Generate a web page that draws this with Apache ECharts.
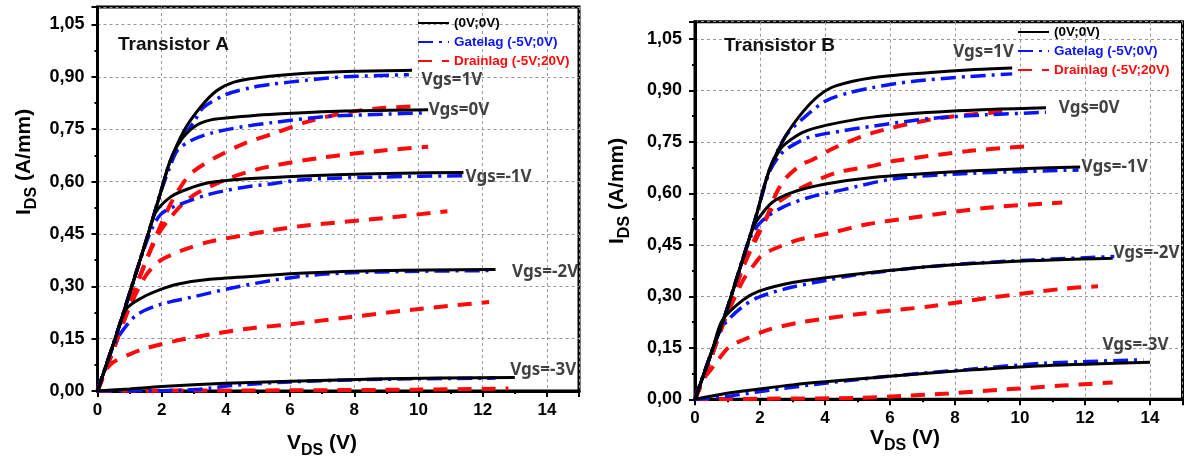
<!DOCTYPE html>
<html><head><meta charset="utf-8">
<script src="https://cdn.jsdelivr.net/npm/echarts@6/dist/echarts.min.js"></script>
<style>html,body{margin:0;padding:0;background:#fff}#c{width:1184px;height:459px}</style>
</head><body><div id="c"></div>
<script>
// ---------- Transistor A : [VDS (V), IDS (A/mm)] ----------
const A_black_p1 = [[0,0],[0.55,0.15],[1.07,0.30],[1.58,0.45],[1.97,0.57],[2.25,0.655],[2.69,0.745],[3.2,0.812],[3.71,0.86],[4.23,0.884],[5.05,0.898],[6.5,0.91],[8,0.916],[9.8,0.919]];
const A_black_0  = [[0,0],[0.55,0.15],[1.07,0.30],[1.58,0.45],[1.97,0.57],[2.25,0.655],[2.55,0.712],[3.0,0.756],[3.5,0.776],[4.5,0.786],[5.35,0.792],[7.7,0.802],[10.3,0.806]];
const A_black_m1 = [[0,0],[0.55,0.15],[1.07,0.30],[1.58,0.45],[1.8,0.51],[2.28,0.556],[2.79,0.578],[3.5,0.597],[4.53,0.607],[5.9,0.614],[7.7,0.62],[9.5,0.624],[11.4,0.626]];
const A_black_m2 = [[0,0],[0.55,0.15],[0.9,0.235],[1.4,0.268],[1.97,0.291],[2.48,0.306],[3.5,0.32],[5.46,0.332],[6,0.336],[8.9,0.345],[12.4,0.348]];
const A_black_m3 = [[0,0],[1,0.006],[2,0.013],[4,0.022],[6,0.028],[9,0.035],[13,0.039]];

const A_blue_p1 = [[0,0],[0.55,0.15],[1.07,0.30],[1.58,0.45],[1.97,0.57],[2.25,0.655],[2.6,0.72],[3.0,0.77],[3.3,0.812],[4.02,0.85],[4.84,0.87],[5.46,0.879],[6.5,0.89],[7.7,0.90],[9.7,0.906]];
const A_blue_0  = [[0,0],[0.55,0.15],[1.07,0.30],[1.58,0.45],[1.97,0.57],[2.25,0.64],[2.48,0.688],[2.9,0.717],[3.6,0.74],[4.53,0.757],[5.46,0.769],[7.1,0.786],[8.9,0.793],[10.3,0.797]];
const A_blue_m1 = [[0,0],[0.55,0.15],[1.07,0.30],[1.58,0.44],[1.97,0.506],[2.58,0.535],[3.5,0.564],[4.53,0.583],[5.46,0.594],[6.5,0.606],[8.9,0.613],[11.5,0.617]];
const A_blue_m2 = [[0,0],[0.5,0.13],[0.84,0.18],[1.25,0.22],[1.97,0.248],[3.0,0.27],[4.23,0.296],[5.46,0.317],[6.5,0.33],[7.7,0.338],[10,0.343],[12.2,0.345]];
const A_blue_m3 = [[0,0],[2,0.001],[3,0.004],[3.5,0.008],[4,0.014],[5,0.021],[6,0.026],[8,0.032],[10,0.035],[12.4,0.037]];

const A_red_p1 = [[0,0],[0.5,0.12],[1,0.25],[1.5,0.37],[1.9,0.46],[2.3,0.54],[2.7,0.60],[3.0,0.63],[3.7,0.67],[4.6,0.71],[5.5,0.738],[6.5,0.77],[7.7,0.797],[8.8,0.81],[9.8,0.815]];
const A_red_0  = [[0,0],[0.5,0.12],[1,0.25],[1.5,0.37],[1.9,0.45],[2.3,0.50],[2.7,0.54],[3.2,0.572],[4.2,0.613],[5.3,0.642],[7.1,0.67],[8.9,0.689],[10.3,0.70]];
const A_red_m1 = [[0,0],[0.5,0.12],[1.0,0.24],[1.5,0.33],[1.9,0.37],[2.3,0.39],[2.7,0.405],[3.5,0.428],[4.5,0.445],[5.4,0.46],[6.5,0.474],[8.9,0.495],[10.9,0.515]];
const A_red_m2 = [[0,0],[0.2,0.05],[0.45,0.08],[1,0.105],[1.5,0.122],[2.5,0.145],[3.7,0.165],[4.8,0.18],[5.9,0.19],[7.9,0.212],[9.8,0.233],[12.2,0.255]];
const A_red_m3 = [[0,0],[2,0.001],[6,0.002],[10,0.004],[12.8,0.007]];

// ---------- Transistor B ----------
const B_black_p1 = [[0,0],[0.53,0.143],[0.94,0.25],[1.46,0.405],[1.87,0.53],[2.28,0.666],[2.79,0.767],[3.3,0.835],[3.8,0.884],[4.33,0.913],[5.46,0.937],[7.25,0.952],[8.5,0.96],[9.76,0.965]];
const B_black_0  = [[0,0],[0.53,0.143],[0.94,0.25],[1.46,0.405],[1.87,0.53],[2.28,0.666],[2.6,0.725],[2.79,0.745],[3.3,0.777],[4.02,0.798],[5.46,0.822],[7.83,0.839],[10.8,0.849]];
const B_black_m1 = [[0,0],[0.53,0.143],[0.94,0.25],[1.46,0.405],[1.75,0.49],[1.9,0.52],[2.38,0.574],[3.0,0.603],[4.02,0.627],[5.46,0.646],[7.83,0.662],[10.2,0.672],[11.85,0.677]];
const B_black_m2 = [[0,0],[0.53,0.143],[0.84,0.23],[1.46,0.288],[1.97,0.315],[3.0,0.34],[4.02,0.354],[5.46,0.37],[7.25,0.387],[9.58,0.401],[12.85,0.411]];
const B_black_m3 = [[0,0],[0.94,0.017],[1.97,0.03],[3.0,0.042],[4,0.051],[5.46,0.063],[6.08,0.068],[8.4,0.085],[10.75,0.098],[14,0.108]];

const B_blue_p1 = [[0,0],[0.53,0.143],[0.94,0.25],[1.46,0.405],[1.87,0.53],[2.28,0.666],[2.79,0.767],[3.3,0.816],[4.02,0.869],[4.74,0.893],[5.46,0.908],[6.67,0.926],[8.4,0.94],[9.76,0.948]];
const B_blue_0  = [[0,0],[0.53,0.143],[0.94,0.25],[1.46,0.405],[1.87,0.53],[2.28,0.66],[2.6,0.71],[2.9,0.734],[3.5,0.763],[4.53,0.782],[5.5,0.796],[7.25,0.818],[9.0,0.829],[10.8,0.836]];
const B_blue_m1 = [[0,0],[0.53,0.143],[0.94,0.25],[1.46,0.405],[1.75,0.48],[2.07,0.52],[2.69,0.559],[3.5,0.588],[4.53,0.61],[6.1,0.642],[8.4,0.658],[11.8,0.668]];
const B_blue_m2 = [[0,0],[0.53,0.143],[0.84,0.211],[1.4,0.265],[1.97,0.298],[3.0,0.327],[4.02,0.346],[4.92,0.362],[7.25,0.387],[9.58,0.402],[12.9,0.416]];
const B_blue_m3 = [[0,0],[0.94,0.008],[1.97,0.022],[3,0.035],[4,0.047],[6.08,0.068],[8.4,0.087],[10.75,0.105],[13.8,0.115]];

const B_red_p1 = [[0,0],[0.3,0.07],[0.6,0.15],[1.0,0.26],[1.5,0.39],[1.9,0.48],[2.2,0.53],[2.5,0.6],[2.8,0.645],[3.3,0.685],[3.6,0.697],[4.3,0.733],[5.46,0.776],[7.25,0.815],[8.5,0.83],[9.7,0.839]];
const B_red_0  = [[0,0],[0.3,0.07],[0.6,0.15],[1.0,0.26],[1.5,0.39],[1.9,0.47],[2.4,0.56],[2.8,0.59],[3.4,0.622],[4.34,0.66],[5.46,0.68],[6.1,0.694],[8.4,0.723],[10.2,0.737]];
const B_red_m1 = [[0,0],[0.3,0.07],[0.6,0.15],[1.0,0.25],[1.5,0.35],[1.8,0.39],[2.07,0.42],[2.48,0.44],[3.2,0.465],[4.2,0.485],[5.3,0.51],[6.67,0.529],[9.0,0.558],[11.3,0.573]];
const B_red_m2 = [[0,0],[0.2,0.05],[0.6,0.1],[1.05,0.153],[1.46,0.172],[2.27,0.203],[3.3,0.225],[5.2,0.25],[7.25,0.271],[9.0,0.295],[11.33,0.322],[12.4,0.329]];
const B_red_m3 = [[0,0],[2.5,0.002],[5,0.004],[6.4,0.01],[7.8,0.017],[9.6,0.029],[11.3,0.04],[12.85,0.049]];

// ---------- text ----------
const legendNames = ['(0V;0V)', 'Gatelag (-5V;0V)', 'Drainlag (-5V;20V)'];
const vgsNames = ['Vgs=1V', 'Vgs=0V', 'Vgs=-1V', 'Vgs=-2V', 'Vgs=-3V'];
const A_labelAt = [[10.08,0.89],[10.3,0.804],[11.45,0.613],[12.9,0.34],[12.84,0.06]];
const B_labelAt = [[7.93,1.012],[11.18,0.848],[11.88,0.677],[12.86,0.425],[12.52,0.158]];
const panelTitles = ['Transistor A', 'Transistor B'];
const xTickStep = 2, xMax = 15, yTickStep = 0.15, yMax = 1.1;

// ---------- build ----------
const FONT = 'Liberation Sans';
const lineStyles = [
  {color: '#000000', type: 'solid', width: 3},
  {color: '#0a14ff', type: [15, 6, 3, 6], width: 3.5},
  {color: '#ff0a0a', type: [14, 10], width: 4}
];
const panels = [
  {black: [A_black_p1, A_black_0, A_black_m1, A_black_m2, A_black_m3],
   blue:  [A_blue_p1, A_blue_0, A_blue_m1, A_blue_m2, A_blue_m3],
   red:   [A_red_p1, A_red_0, A_red_m1, A_red_m2, A_red_m3],
   labels: A_labelAt},
  {black: [B_black_p1, B_black_0, B_black_m1, B_black_m2, B_black_m3],
   blue:  [B_blue_p1, B_blue_0, B_blue_m1, B_blue_m2, B_blue_m3],
   red:   [B_red_p1, B_red_0, B_red_m1, B_red_m2, B_red_m3],
   labels: B_labelAt}
];

const series = [];
panels.forEach((p, gi) => {
  [['red', 2], ['blue', 1], ['black', 0]].forEach(([key, si]) => {
    p[key].forEach(d => {
      series.push({
        type: 'line', name: legendNames[si], data: d,
        xAxisIndex: gi, yAxisIndex: gi,
        showSymbol: false, symbol: 'none', smooth: 0.3,
        lineStyle: Object.assign({}, lineStyles[si]),
        itemStyle: {color: lineStyles[si].color},
        z: 2 + (2 - si), animation: false
      });
    });
  });
  series.push({
    type: 'scatter', name: 'lbl' + gi, xAxisIndex: gi, yAxisIndex: gi,
    symbolSize: 1, itemStyle: {color: 'rgba(0,0,0,0)'}, silent: true, z: 10,
    data: p.labels.map((v, i) => ({value: v, name: vgsNames[i]})),
    label: {show: true, position: 'right', distance: 0, formatter: '{b}',
      color: '#111', fontFamily: 'Noto Sans', fontWeight: 'bold', fontSize: 17},
    animation: false
  });
});

const grids = [
  {left: 97.5, top: 7, width: 481.5, height: 384},
  {left: 695, top: 21.7, width: 487.5, height: 377.6}
];
const xAxes = grids.map((g, i) => ({
  type: 'value', gridIndex: i, min: 0, max: xMax, interval: xTickStep,
  axisLine: {show: true, onZero: false, lineStyle: {color: '#000', width: 3}},
  axisTick: {show: true, inside: false, length: 6, lineStyle: {color: '#000', width: 2}},
  minorTick: {show: true, splitNumber: 2, length: 3, lineStyle: {color: '#000', width: 2}},
  splitLine: {show: true, lineStyle: {color: '#999', type: [3, 3], width: 1}},
  axisLabel: {showMaxLabel: false, margin: 11, color: '#000', fontFamily: FONT, fontWeight: 'bold', fontSize: 17}
}));
const yAxes = grids.map((g, i) => ({
  type: 'value', gridIndex: i, min: 0, max: yMax, interval: yTickStep,
  axisLine: {show: true, onZero: false, lineStyle: {color: '#000', width: 3}},
  axisTick: {show: true, inside: false, length: 6, lineStyle: {color: '#000', width: 2}},
  minorTick: {show: true, splitNumber: 2, length: 3, lineStyle: {color: '#000', width: 2}},
  splitLine: {show: true, lineStyle: {color: '#999', type: [3, 3], width: 1}},
  axisLabel: {showMaxLabel: false, margin: 13, color: '#000', fontFamily: FONT, fontWeight: 'bold', fontSize: 18,
    formatter: v => v.toFixed(2).replace('.', ',')}
}));

const legendData = legendNames.map((n, i) => ({name: n, textStyle: {color: lineStyles[i].color}}));
const legends = [
  {left: 417, top: 16},
  {left: 1017, top: 25}
].map(l => Object.assign({
  orient: 'vertical', padding: 0, itemGap: 5, itemWidth: 31, itemHeight: 14,
  data: legendData, selectedMode: false,
  itemStyle: {opacity: 0, borderWidth: 0},
  textStyle: {fontFamily: FONT, fontWeight: 'bold', fontSize: 13.5, padding: [0, 0, 0, 0]}
}, l));

const richAx = {
  b: {fontFamily: FONT, fontWeight: 'bold', fontSize: 21, color: '#000', lineHeight: 22, verticalAlign: 'top'},
  s: {fontFamily: FONT, fontWeight: 'bold', fontSize: 16, color: '#000', lineHeight: 16, padding: [10, 0, 0, 0], verticalAlign: 'top'}
};
const xTitle = '{b|V}{s|DS}{b| (V)}';
const yTitle = '{b|I}{s|DS}{b| (A/mm)}';
const graphics = [
  {type: 'text', left: 287, top: 433, style: {text: xTitle, rich: richAx}},
  {type: 'text', left: 870, top: 428, style: {text: xTitle, rich: richAx}},
  {type: 'text', x: 14, y: 215, rotation: Math.PI / 2, style: {text: yTitle, rich: richAx}},
  {type: 'text', x: 607, y: 244, rotation: Math.PI / 2, style: {text: yTitle, rich: richAx}}
];

const chart = echarts.init(document.getElementById('c'), null, {renderer: 'canvas'});
chart.setOption({
  animation: false,
  backgroundColor: '#fff',
  title: [
    {text: panelTitles[0], left: 118, top: 35, padding: 0, textStyle: {fontFamily: FONT, fontWeight: 'bold', fontSize: 19, color: '#111'}},
    {text: panelTitles[1], left: 724, top: 36, padding: 0, textStyle: {fontFamily: FONT, fontWeight: 'bold', fontSize: 19, color: '#111'}}
  ],
  grid: grids.map(g => Object.assign({show: true, borderColor: '#000', borderWidth: 3, backgroundColor: 'transparent'}, g)),
  xAxis: xAxes, yAxis: yAxes,
  legend: legends,
  graphic: graphics,
  series: series
});
</script></body></html>
